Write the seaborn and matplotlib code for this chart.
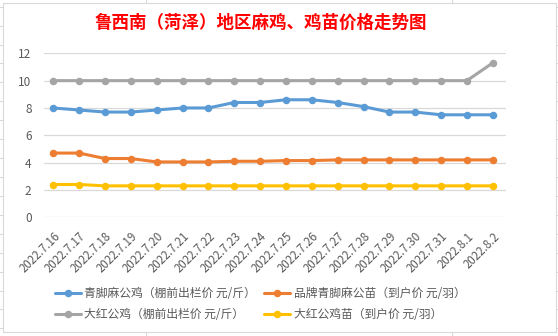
import numpy as np
import pandas as pd
import matplotlib
matplotlib.use("Agg")
import matplotlib.pyplot as plt
from matplotlib.lines import Line2D
from matplotlib.patches import Rectangle
import seaborn as sns

dates = ["2022.7.16", "2022.7.17", "2022.7.18", "2022.7.19", "2022.7.20", "2022.7.21",
         "2022.7.22", "2022.7.23", "2022.7.24", "2022.7.25", "2022.7.26", "2022.7.27",
         "2022.7.28", "2022.7.29", "2022.7.30", "2022.7.31", "2022.8.1", "2022.8.2"]
qingjiao_cock = [8.0, 7.85, 7.7, 7.7, 7.85, 8.0, 8.0, 8.4, 8.4, 8.6, 8.6, 8.4,
                 8.1, 7.7, 7.7, 7.5, 7.5, 7.5]
brand_chick = [4.7, 4.7, 4.3, 4.3, 4.05, 4.05, 4.05, 4.1, 4.1, 4.15, 4.15, 4.2,
               4.2, 4.2, 4.2, 4.2, 4.2, 4.2]
dahong_cock = [10, 10, 10, 10, 10, 10, 10, 10, 10, 10, 10, 10, 10, 10, 10, 10, 10, 11.3]
dahong_chick = [2.4, 2.4, 2.3, 2.3, 2.3, 2.3, 2.3, 2.3, 2.3, 2.3, 2.3, 2.3,
                2.3, 2.3, 2.3, 2.3, 2.3, 2.3]

series_names = ["青脚麻公鸡（棚前出栏价 元/斤）", "品牌青脚麻公苗（到户价 元/羽）",
                "大红公鸡（棚前出栏价 元/斤）", "大红公鸡苗（到户价 元/羽）"]
series_values = [qingjiao_cock, brand_chick, dahong_cock, dahong_chick]
colors = ["#5B9BD5", "#ED7D31", "#A5A5A5", "#FFC000"]
title = "鲁西南（菏泽）地区麻鸡、鸡苗价格走势图"
yticks = [0, 2, 4, 6, 8, 10, 12]

sns.set_theme(style="white")
plt.rcParams['font.family'] = ['Noto Sans CJK SC', 'DejaVu Sans']

W, H = 558, 336
fig = plt.figure(figsize=(W / 100, H / 100), dpi=100)
fig.patch.set_facecolor("white")

def fx(px):
    return px / W

def fy(py):
    return 1 - py / H

# spreadsheet grid behind chart
gridc = "#D5D8E4"
for xv in [145.7, 452]:
    fig.add_artist(Line2D([fx(xv), fx(xv)], [0, 1], color=gridc, lw=0.8,
                          transform=fig.transFigure, zorder=-3))
yv = 6.7
while yv < H:
    fig.add_artist(Line2D([0, 1], [fy(yv), fy(yv)], color=gridc, lw=0.8,
                          transform=fig.transFigure, zorder=-3))
    yv += 18.92
# chart frame
fig.add_artist(Rectangle((fx(3), fy(332)), fx(556) - fx(3), fy(3) - fy(332),
                         facecolor="white", edgecolor="#D9D9D9", lw=0.8,
                         transform=fig.transFigure, zorder=-1))

ax = fig.add_axes([fx(44), fy(217.3), fx(505.7) - fx(44), fy(53.3) - fy(217.3)])
ax.set_facecolor("none")

x = np.arange(len(dates))
rows = []
for name, vals in zip(series_names, series_values):
    for i, v in enumerate(vals):
        rows.append({"x": i, "value": v, "series": name})
df = pd.DataFrame(rows)

sns.lineplot(data=df, x="x", y="value", hue="series", hue_order=series_names,
             palette=colors, marker="o", markersize=5.4, markeredgewidth=0,
             linewidth=2.2, ax=ax, legend=False, zorder=3)

ax.set_xlim(-0.36, 17.5)
ax.set_ylim(0, 12)
ax.set_yticks(yticks)
ax.set_yticklabels([str(t) for t in yticks])
ax.yaxis.grid(True, color="#D9D9D9", lw=0.9)
ax.set_axisbelow(True)
for s in ax.spines.values():
    s.set_visible(False)
ax.set_xlabel("")
ax.set_ylabel("")
ax.set_xticks(x)
ax.set_xticklabels(dates, rotation=45, ha="right", rotation_mode="anchor")
ax.tick_params(axis="x", length=0, pad=9, labelsize=8.3, labelcolor="#595959")
ax.tick_params(axis="y", length=0, pad=9, labelsize=8.5, labelcolor="#595959")

fig.text(fx(261), fy(23), title, color="#FF0000", fontsize=12.6, fontweight="bold",
         ha="center", va="center")

handles = [Line2D([0], [0], color=c, lw=2.2, marker="o", markersize=5.4,
                  markeredgewidth=0) for c in colors]
order = [0, 2, 1, 3]
leg = fig.legend([handles[i] for i in order], [series_names[i] for i in order],
                 ncol=2, loc="center", bbox_to_anchor=(fx(260), fy(304)),
                 bbox_transform=fig.transFigure, frameon=False, fontsize=8.5,
                 handlelength=2.2, handletextpad=0.3, columnspacing=0.7,
                 labelspacing=0.7, borderpad=0)
for t in leg.get_texts():
    t.set_color("#595959")

fig.savefig("out.png", dpi=100)
